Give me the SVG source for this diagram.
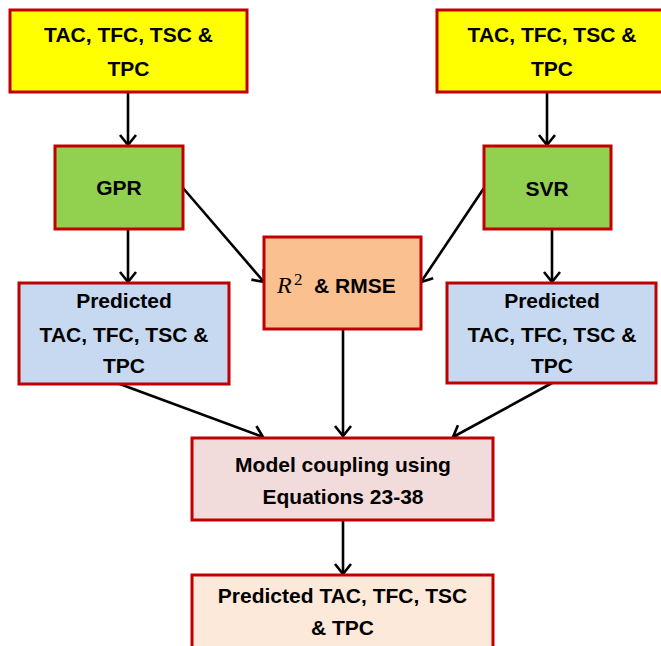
<svg xmlns="http://www.w3.org/2000/svg" width="661" height="646" viewBox="0 0 661 646">
<defs>
<marker id="arr" viewBox="-12 -10 14 20" refX="0" refY="0" markerWidth="14" markerHeight="20" markerUnits="userSpaceOnUse" orient="auto">
<path d="M-10,-8 L0,0 L-10,8" fill="none" stroke="#000" stroke-width="2.6"/>
</marker>
<style>
.box{stroke:#C00000;stroke-width:3}
.t{font-family:"Liberation Sans",Arial,sans-serif;font-weight:bold;font-size:21px;fill:#000;text-anchor:middle}
.c{stroke:#000;stroke-width:2.6;fill:none;marker-end:url(#arr)}
</style>
</defs>
<rect width="661" height="646" fill="#fff"/>
<g id="connectors">
<line class="c" x1="128" y1="92" x2="128" y2="145"/>
<line class="c" x1="547" y1="92" x2="547" y2="145"/>
<line class="c" x1="128" y1="229" x2="128" y2="282"/>
<line class="c" x1="552" y1="229" x2="552" y2="282"/>
<line class="c" x1="183" y1="188" x2="264" y2="282"/>
<line class="c" x1="484" y1="188" x2="421" y2="282"/>
<line class="c" x1="343" y1="329" x2="343" y2="436"/>
<line class="c" x1="117" y1="383" x2="263" y2="437"/>
<line class="c" x1="552" y1="383" x2="453" y2="437"/>
<line class="c" x1="343" y1="520" x2="343" y2="574"/>
</g>
<g id="input-left">
<rect class="box" x="10" y="10" width="237" height="82" fill="#FFFF00"/>
<text class="t" x="128.5" y="42">TAC, TFC, TSC &amp;</text>
<text class="t" x="128.5" y="76">TPC</text>
</g>
<g id="input-right">
<rect class="box" x="437" y="10" width="232" height="82" fill="#FFFF00"/>
<text class="t" x="552" y="42">TAC, TFC, TSC &amp;</text>
<text class="t" x="552" y="76">TPC</text>
</g>
<g id="gpr">
<rect class="box" x="55" y="146" width="128" height="83" fill="#92D050"/>
<text class="t" x="119" y="195">GPR</text>
</g>
<g id="svr">
<rect class="box" x="484" y="146" width="127" height="83" fill="#92D050"/>
<text class="t" x="547" y="196">SVR</text>
</g>
<g id="pred-left">
<rect class="box" x="19" y="283" width="210" height="101" fill="#C6D9F1"/>
<text class="t" x="124" y="308">Predicted</text>
<text class="t" x="124" y="342">TAC, TFC, TSC &amp;</text>
<text class="t" x="124" y="373">TPC</text>
</g>
<g id="pred-right">
<rect class="box" x="447" y="283" width="209" height="100" fill="#C6D9F1"/>
<text class="t" x="552" y="308">Predicted</text>
<text class="t" x="552" y="342">TAC, TFC, TSC &amp;</text>
<text class="t" x="552" y="373">TPC</text>
</g>
<g id="metrics">
<rect class="box" x="264" y="237" width="157" height="92" fill="#FAC090"/>
<text y="293" style="font-size:21px;fill:#000"><tspan x="277" font-size="24" font-family="'Liberation Serif','Times New Roman',serif" font-style="italic">R</tspan><tspan x="294" dy="-8" font-size="17" font-family="'Liberation Serif','Times New Roman',serif">2</tspan><tspan x="314" dy="8" font-family="'Liberation Sans',Arial,sans-serif" font-weight="bold">&amp; RMSE</tspan></text>
</g>
<g id="coupling">
<rect class="box" x="192" y="438" width="301" height="82" fill="#F2DCDB"/>
<text class="t" x="343" y="472">Model coupling using</text>
<text class="t" x="343" y="504">Equations 23-38</text>
</g>
<g id="output">
<rect class="box" x="192" y="575" width="301" height="80" fill="#FDE9D9"/>
<text class="t" x="342.5" y="603">Predicted TAC, TFC, TSC</text>
<text class="t" x="342.5" y="635">&amp; TPC</text>
</g>
</svg>
